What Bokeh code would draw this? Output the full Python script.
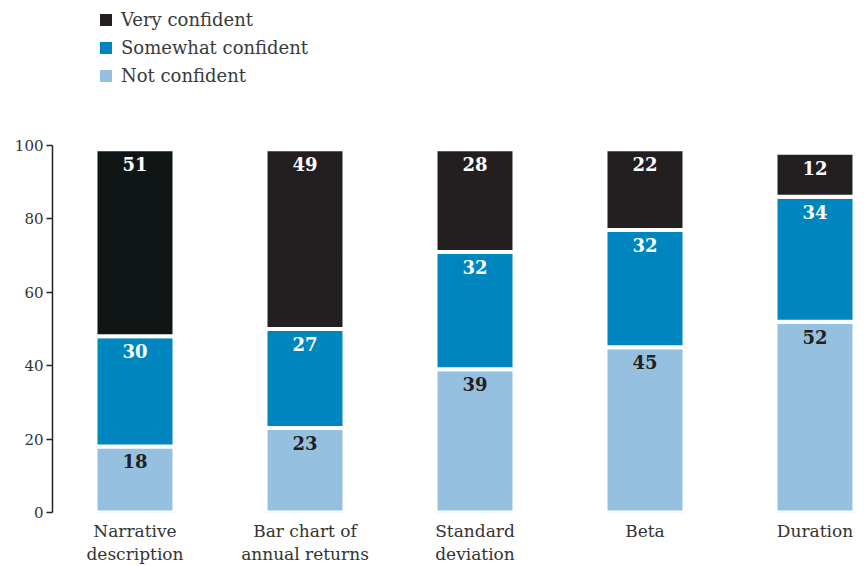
import numpy as np
from bokeh.plotting import figure
from bokeh.models import ColumnDataSource, FixedTicker, Legend, LegendItem, Range1d
from bokeh.core.properties import value
from bokeh.embed import file_html
from bokeh.resources import INLINE

categories = ["Narrative\ndescription", "Bar chart of\nannual returns", "Standard\ndeviation", "Beta", "Duration"]
not_confident = [18, 23, 39, 45, 52]
somewhat_confident = [30, 27, 32, 32, 34]
very_confident = [51, 49, 28, 22, 12]
very_colors = ["#101516", "#231f20", "#231f20", "#231f20", "#231f20"]
series_names = ["Very confident", "Somewhat confident", "Not confident"]
series_colors = ["#231f20", "#0086be", "#96c0df"]
y_ticks = [0, 20, 40, 60, 80, 100]

SERIF = "DejaVu Serif"
x = list(range(len(categories)))
n = np.array(not_confident)
s = np.array(somewhat_confident)
v = np.array(very_confident)

p = figure(width=864, height=566, output_backend="svg", toolbar_location=None,
           x_range=Range1d(-0.4853, 4.2912), y_range=Range1d(0, 139.5),
           min_border_left=52, min_border_right=0, min_border_top=0, min_border_bottom=54)
p.outline_line_color = None
p.grid.visible = False
p.background_fill_color = "white"

W = 79 / 170
src_n = ColumnDataSource(dict(x=x, bottom=[0] * 5, top=n, lab=[str(t) for t in not_confident]))
src_s = ColumnDataSource(dict(x=x, bottom=n, top=n + s, lab=[str(t) for t in somewhat_confident]))
src_v = ColumnDataSource(dict(x=x, bottom=n + s, top=n + s + v, lab=[str(t) for t in very_confident], c=very_colors))

p.vbar(x="x", bottom="bottom", top="top", width=W, source=src_n, fill_color=series_colors[2], line_color="white", line_width=4)
p.vbar(x="x", bottom="bottom", top="top", width=W, source=src_s, fill_color=series_colors[1], line_color="white", line_width=4)
p.vbar(x="x", bottom="bottom", top="top", width=W, source=src_v, fill_color="c", line_color="white", line_width=4)

for src, col in ((src_n, "#231f20"), (src_s, "white"), (src_v, "white")):
    p.text(x="x", y="top", text="lab", source=src, text_align="center", text_baseline="middle",
           y_offset=15, text_font=value(SERIF), text_font_style="bold", text_font_size="18px", text_color=col)

# legend swatches (zero-height renderers used only for the legend)
items = []
for name, col in zip(series_names, series_colors):
    r = p.vbar(x=[0], bottom=[0], top=[0], width=0.1, fill_color=col, line_color=None)
    items.append(LegendItem(label=name, renderers=[r]))

legend = Legend(items=items, location=(46, 426))
legend.glyph_width = 15
legend.glyph_height = 15
legend.label_height = 20
legend.spacing = 7
legend.padding = 0
legend.margin = 0
legend.border_line_color = None
legend.background_fill_alpha = 0
legend.label_text_font = SERIF
legend.label_text_font_size = "18px"
legend.label_text_color = "#3a3a3a"
legend.label_standoff = 8
p.add_layout(legend)

ya = p.yaxis[0]
ya.ticker = FixedTicker(ticks=y_ticks)
ya.bounds = (0, 100)
ya.minor_tick_line_color = None
ya.major_tick_out = 6
ya.major_tick_in = 0
ya.axis_line_color = "#222222"
ya.axis_line_width = 1.5
ya.major_tick_line_color = "#222222"
ya.major_tick_line_width = 1.5
ya.major_label_text_font = SERIF
ya.major_label_text_font_size = "15px"
ya.major_label_text_color = "#333333"
ya.major_label_standoff = 3

xa = p.xaxis[0]
xa.ticker = FixedTicker(ticks=x)
xa.major_label_overrides = {i: c for i, c in zip(x, categories)}
xa.axis_line_color = None
xa.major_tick_line_color = None
xa.minor_tick_line_color = None
xa.major_tick_out = 0
xa.major_tick_in = 0
xa.major_label_text_font = SERIF
xa.major_label_text_font_size = "17px"
xa.major_label_text_color = "#333333"
xa.major_label_standoff = 8
xa.major_label_text_line_height = 1.15

open("out.html", "w").write(file_html(p, INLINE))
